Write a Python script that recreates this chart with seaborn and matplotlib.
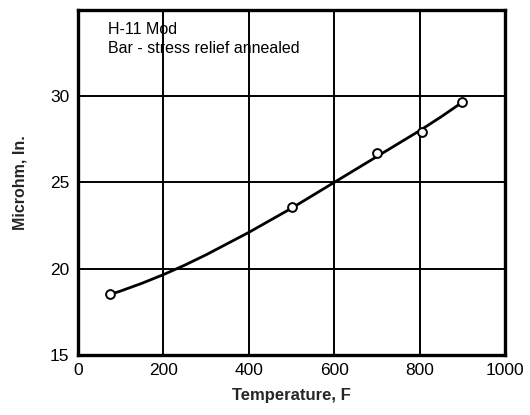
import matplotlib
matplotlib.use("Agg")
import matplotlib.pyplot as plt
import seaborn as sns
import pandas as pd
from matplotlib import font_manager

# Measured resistivity values
temperature_f = [75, 500, 700, 805, 900]
resistivity = [18.5, 23.55, 26.7, 27.95, 29.65]

# Faired curve through the data
curve_temp = [75, 100, 150, 200, 250, 300, 350, 400, 450, 500, 550, 600, 650, 700, 750, 800, 850, 900]
curve_res = [18.5, 18.7, 19.15, 19.65, 20.2, 20.8, 21.45, 22.1, 22.8, 23.5, 24.25, 25.0, 25.75, 26.5, 27.25, 28.0, 28.8, 29.65]

x_ticks = [0, 200, 400, 600, 800, 1000]
y_ticks = [15, 20, 25, 30]

sns.set_theme(style="white")
names = {f.name for f in font_manager.fontManager.ttflist}
family = "Liberation Sans Narrow" if "Liberation Sans Narrow" in names else "Liberation Sans"
plt.rcParams["font.family"] = [family, "DejaVu Sans"]

fig = plt.figure(figsize=(5.3, 4.15), dpi=100)
ax = fig.add_axes([0.147, 0.145, 0.806, 0.831])

curve = pd.DataFrame({"T": curve_temp, "R": curve_res})
pts = pd.DataFrame({"T": temperature_f, "R": resistivity})

sns.lineplot(data=curve, x="T", y="R", ax=ax, color="black", linewidth=2.0, zorder=3)
sns.scatterplot(data=pts, x="T", y="R", ax=ax, marker="o", s=40,
                facecolor="white", edgecolor="black", linewidth=1.4, zorder=4)

ax.set_xlim(0, 1000)
ax.set_ylim(15, 35)
ax.set_xticks(x_ticks)
ax.set_yticks(y_ticks)
ax.grid(True, color="black", linewidth=1.4)
ax.set_axisbelow(True)
for s in ax.spines.values():
    s.set_color("black")
    s.set_linewidth(2.4)
ax.tick_params(length=0, labelsize=12.5, pad=6, colors="black")

ax.set_xlabel("Temperature, F", fontsize=12, fontweight="bold", labelpad=7)
ax.set_ylabel("Microhm, In.", fontsize=11.5, fontweight="bold", labelpad=16)

ax.text(0.07, 0.965, "H-11 Mod\nBar - stress relief annealed", transform=ax.transAxes,
        ha="left", va="top", fontsize=11.5, linespacing=1.35, color="black")

fig.savefig("out.png", dpi=100)
